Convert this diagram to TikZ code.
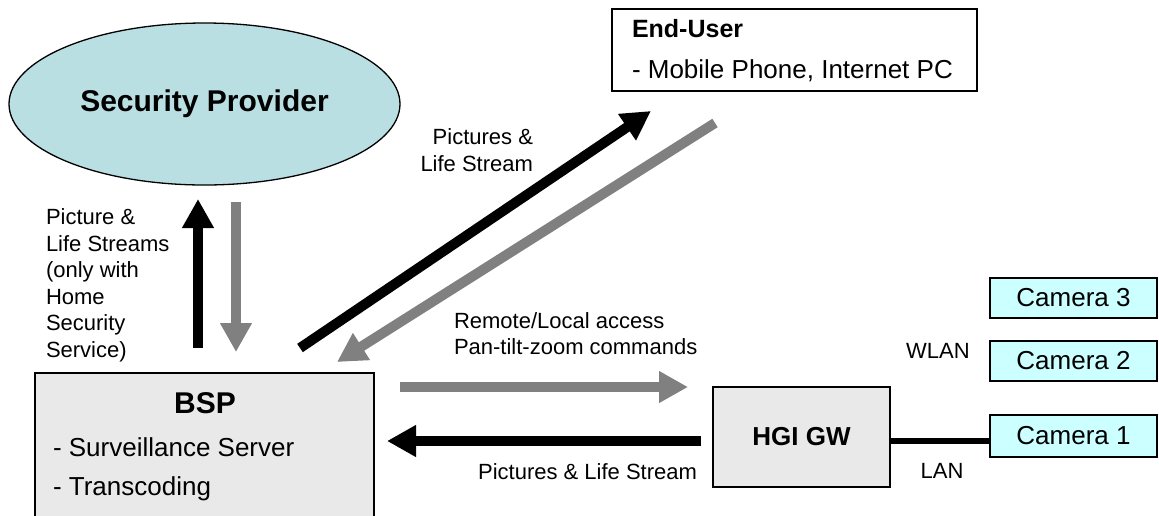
\documentclass[tikz,border=0pt]{standalone}
\usepackage{fontspec}
\setmainfont{Liberation Sans}
\usetikzlibrary{arrows.meta,shapes.geometric}

\definecolor{providerfill}{HTML}{B9DFE3}
\definecolor{camfill}{HTML}{CCFFFF}
\definecolor{boxgray}{HTML}{E9E9E9}
\definecolor{flowgray}{HTML}{808080}

\newcommand\fsz[1]{\fontsize{#1}{#1}\selectfont}

\begin{document}
\begin{tikzpicture}[x=1pt,y=-1pt,
  every node/.style={inner sep=0pt, outer sep=0pt},
  outline/.style={draw=black, line width=1.3pt},
  panel/.style={outline, fill=boxgray},
  cam/.style={outline, fill=camfill, minimum width=167pt, minimum height=40pt, font=\fsz{26}},
  lbl/.style={font=\fsz{22}, anchor=base west},
  lblr/.style={font=\fsz{22}, anchor=base east},
  lblc/.style={font=\fsz{22}, anchor=base},
  boxline/.style={font=\fsz{26}, anchor=base west},
  flow/.style={line width=10pt, -{Triangle[length=29pt,width=30pt]}},
  blackflow/.style={flow, draw=black},
  grayflow/.style={flow, draw=flowgray},
  lanlink/.style={draw=black, line width=6pt},
]
\useasboundingbox (0,0) rectangle (1159,515);
\clip (0,0) rectangle (1159,515);

% --- parties -------------------------------------------------------------
\node[ellipse, outline, fill=providerfill, minimum width=391pt, minimum height=162pt,
      font=\bfseries\fsz{30}] (sp) at (204.5,104) {Security Provider};

\node[outline, fill=white, minimum width=365pt, minimum height=82pt] (eu) at (794.5,50) {};
\node[anchor=base west, font=\bfseries\fsz{25}] (eutitle) at (632,37) {End-User};
\node[boxline] (euline) at (632,78) {- Mobile Phone, Internet PC};

\node[panel, minimum width=339pt, minimum height=170pt] (bsp) at (204.5,458) {};
\node[anchor=base, font=\bfseries\fsz{30}] (bsptitle) at (205,413) {BSP};
\node[boxline] (bspl1) at (53,456) {- Surveillance Server};
\node[boxline] (bspl2) at (53,495) {- Transcoding};

\node[panel, minimum width=177pt, minimum height=100pt, font=\bfseries\fsz{26}] (hgi) at (801.5,437) {HGI GW};

\node[cam] (cam3) at (1073.5,298) {Camera 3};
\node[cam] (cam2) at (1073.5,361) {Camera 2};
\node[cam, minimum height=42pt] (cam1) at (1073.5,436) {Camera 1};

% --- flow end points -----------------------------------------------------
\coordinate (upA) at (198,348);   \coordinate (upB) at (198,199);
\coordinate (dnA) at (236,202);   \coordinate (dnB) at (236,352);
\coordinate (toEuA) at (300,348); \coordinate (toEuB) at (651,111);
\coordinate (frEuA) at (715,123); \coordinate (frEuB) at (337,362);
\coordinate (cmdA) at (400,387);  \coordinate (cmdB) at (688,387);
\coordinate (picA) at (701,441);  \coordinate (picB) at (387,441);

% --- flows ---------------------------------------------------------------
\draw[blackflow] (upA) -- (upB);
\draw[grayflow]  (dnA) -- (dnB);
\draw[blackflow] (toEuA) -- (toEuB);
\draw[grayflow]  (frEuA) -- (frEuB);
\draw[grayflow]  (cmdA) -- (cmdB);
\draw[blackflow] (picA) -- (picB);

% wired camera link
\draw[lanlink] ([yshift=-4pt]hgi.east) -- ([yshift=-4pt]hgi.east -| cam1.west);

% --- labels --------------------------------------------------------------
\node[lbl] (l1) at (46,224.5) {Picture \&};
\node[lbl] (l2) at (46,251)   {Life Streams};
\node[lbl] (l3) at (46,277.5) {(only with};
\node[lbl] (l4) at (46,304)   {Home};
\node[lbl] (l5) at (46,330.5) {Security};
\node[lbl] (l6) at (46,357)   {Service)};

\node[lblr] (d1) at (533,144) {Pictures \&};
\node[lblr] (d2) at (533,171) {Life Stream};

\node[lbl] (c1) at (454,328) {Remote/Local access};
\node[lbl] (c2) at (454,354) {Pan-tilt-zoom commands};

\node[lblr] (p1) at (697,479) {Pictures \& Life Stream};

\node[lblc] (wlan) at (938,358) {WLAN};
\node[lblc] (lan)  at (942,478) {LAN};
\end{tikzpicture}
\end{document}
